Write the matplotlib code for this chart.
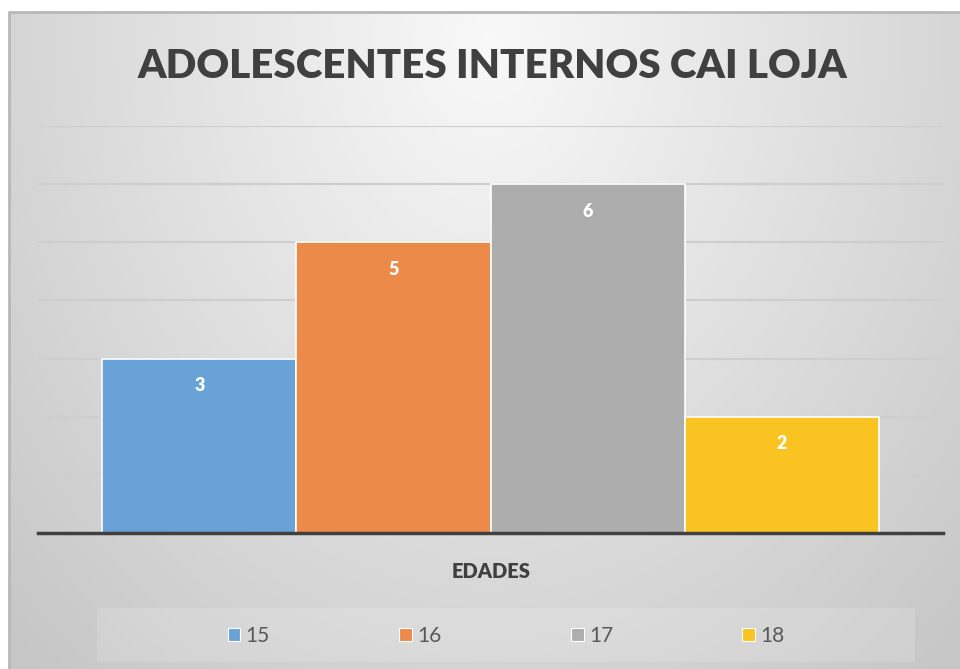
import numpy as np
import matplotlib
matplotlib.use("Agg")
import matplotlib.pyplot as plt
from matplotlib.patches import Patch, Rectangle
from matplotlib.lines import Line2D

plt.rcParams['font.family'] = ['Lato', 'DejaVu Sans']

title = "ADOLESCENTES INTERNOS CAI LOJA"
category = "EDADES"
edades = ["15", "16", "17", "18"]
cantidades = [3, 5, 6, 2]
colores = ["#68a2d6", "#ec8a4a", "#adadad", "#f9c322"]

W, H = 960, 669
fig = plt.figure(figsize=(W / 100, H / 100), dpi=100)
fig.patch.set_facecolor("white")

# fondo degradado del area del grafico
bg = fig.add_axes([9 / W, 0, 1 - 9 / W, 1 - 12 / H])
yy, xx = np.mgrid[0:657, 0:951]
r = np.sqrt(((xx - 480) / 480.0) ** 2 + ((yy - 30) / 600.0) ** 2)
shade = np.clip(0.975 - 0.14 * r, 0.78, 1)
bg.imshow(np.dstack([shade] * 3), aspect="auto", extent=[0, 1, 0, 1], origin="upper")
bg.set_axis_off()
# borde superior e izquierdo
fig.add_artist(Line2D([9 / W, 9 / W, 1], [0, 1 - 12 / H, 1 - 12 / H], transform=fig.transFigure,
                      color="#b8b8b8", linewidth=2))

# area de trazado
ax = fig.add_axes([38 / W, (H - 533) / H, 905 / W, 407 / H])
ax.set_facecolor("none")
w = 0.2144
for i, (e, c, v) in enumerate(zip(edades, colores, cantidades)):
    x = (i - 1.5) * w
    ax.bar(x, v, width=w, color=c, edgecolor="white", linewidth=1.2, label=e, zorder=3)
    ax.annotate(str(v), (x, v), xytext=(0, -27), textcoords="offset pixels",
                ha="center", va="center", color="white", fontsize=13, fontweight="heavy", zorder=4)

ax.set_xlim(-0.5, 0.5)
ax.set_ylim(0, 7)
ax.set_yticks(range(1, 8))
ax.yaxis.grid(True, color="#cecece", linewidth=1.6, zorder=0)
ax.set_xticks([])
ax.tick_params(axis="y", length=0, labelleft=False)
for s in ["top", "right", "left"]:
    ax.spines[s].set_visible(False)
ax.spines["bottom"].set_color("#404040")
ax.spines["bottom"].set_linewidth(2.5)
ax.spines["bottom"].set_zorder(5)

fig.text(492 / W, 1 - 66 / H, title, ha="center", va="center", fontsize=29,
         fontweight="heavy", color="#404040")
fig.text(491 / W, 1 - 571 / H, category, ha="center", va="center", fontsize=14.5,
         fontweight="heavy", color="#404040")

# leyenda
fig.add_artist(Rectangle((97 / W, 1 - 662 / H), 818 / W, 54 / H, transform=fig.transFigure,
                         facecolor="white", alpha=0.15, edgecolor="none"))
handles = [Patch(facecolor=c, edgecolor="white", linewidth=0.8) for c in colores]
fig.legend(handles, edades, loc="center", bbox_to_anchor=(506 / W, 1 - 636 / H), ncol=4,
           frameon=False, fontsize=15, handlelength=0.62, handleheight=0.62,
           handletextpad=0.25, columnspacing=6.2, labelcolor="#595959")

fig.savefig("out.png", dpi=100)
